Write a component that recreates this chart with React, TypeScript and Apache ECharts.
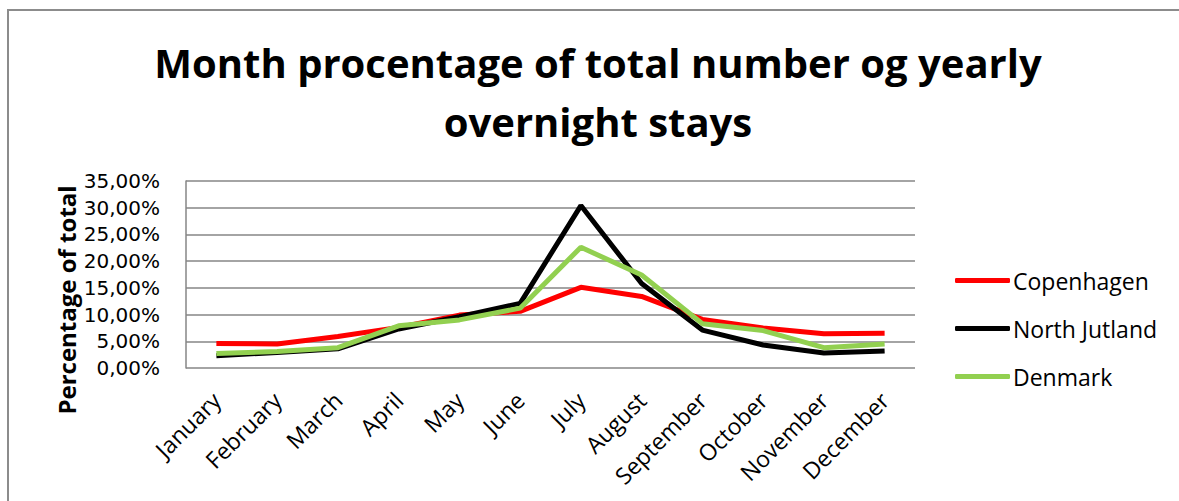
import React, { useEffect, useRef } from "react";
import * as echarts from "echarts";

const months = ["January", "February", "March", "April", "May", "June", "July", "August", "September", "October", "November", "December"];
const copenhagen = [4.6, 4.5, 5.9, 7.6, 9.9, 10.6, 15.1, 13.4, 9.1, 7.5, 6.4, 6.5];
const northJutland = [2.3, 2.9, 3.6, 7.3, 9.6, 12.1, 30.4, 15.8, 7.1, 4.3, 2.8, 3.2];
const denmark = [2.7, 3.1, 3.8, 7.9, 9.0, 11.2, 22.6, 17.4, 8.3, 7.0, 3.8, 4.5];
const yTicks = { min: 0, max: 35, interval: 5 };
const titleLines = ["Month procentage of total number og yearly", "overnight stays"];
const yAxisName = "Percentage of total";

const FONT = "'Open Sans', 'Noto Sans', sans-serif";
const NUM_FONT = "'DejaVu Sans', 'Open Sans', sans-serif";

export default function App() {
  const ref = useRef<HTMLDivElement>(null);
  useEffect(() => {
    if (!ref.current) return;
    const chart = echarts.init(ref.current, null, { renderer: "svg" });
    chart.setOption({
      animation: false,
      backgroundColor: "#ffffff",
      textStyle: { fontFamily: FONT },
      graphic: [
        {
          type: "rect",
          shape: { x: 8, y: 10, width: 1300, height: 600 },
          style: { fill: "none", stroke: "#8c8c8c", lineWidth: 2 },
          silent: true,
        },
        {
          type: "text",
          x: 598,
          y: 62,
          style: {
            text: titleLines[0],
            font: `bold 40px ${FONT}`,
            fill: "#000",
            align: "center",
            verticalAlign: "middle",
          },
        },
        {
          type: "text",
          x: 598,
          y: 121,
          style: {
            text: titleLines[1],
            font: `bold 40px ${FONT}`,
            fill: "#000",
            align: "center",
            verticalAlign: "middle",
          },
        },
        {
          type: "text",
          x: 66,
          y: 300,
          rotation: Math.PI / 2,
          style: {
            text: yAxisName,
            font: `bold 24px ${FONT}`,
            fill: "#000",
            align: "center",
            verticalAlign: "middle",
          },
        },
      ],
      legend: {
        orient: "vertical",
        left: 955,
        top: 269,
        padding: 0,
        itemWidth: 55,
        itemHeight: 5,
        itemGap: 25,
        icon: "roundRect",
        textStyle: { fontFamily: FONT, fontSize: 23, color: "#000", padding: [0, 0, 0, -2] },
        data: ["Copenhagen", "North Jutland", "Denmark"],
      },
      grid: { left: 186, right: 264, top: 181, bottom: 133, containLabel: false },
      xAxis: {
        type: "category",
        data: months,
        boundaryGap: true,
        axisLine: { show: false },
        axisTick: { show: false },
        axisLabel: {
          rotate: 45,
          interval: 0,
          margin: 28,
          fontFamily: FONT,
          fontSize: 23,
          color: "#000",
        },
      },
      yAxis: {
        type: "value",
        min: yTicks.min,
        max: yTicks.max,
        interval: yTicks.interval,
        axisLine: { show: true, lineStyle: { color: "#868686", width: 1.5 } },
        axisTick: { show: false },
        splitLine: { lineStyle: { color: "#868686", width: 1.5 } },
        axisLabel: {
          margin: 26,
          fontFamily: NUM_FONT,
          fontSize: 20,
          color: "#000",
          formatter: (v: number) => v.toFixed(2).replace(".", ",") + "%",
        },
      },
      series: [
        { name: "Copenhagen", type: "line", data: copenhagen, color: "#FF0000", lineStyle: { width: 5, color: "#FF0000" }, showSymbol: false, symbol: "none" },
        { name: "North Jutland", type: "line", data: northJutland, color: "#000000", lineStyle: { width: 5, color: "#000000" }, showSymbol: false, symbol: "none" },
        { name: "Denmark", type: "line", data: denmark, color: "#92D050", lineStyle: { width: 5, color: "#92D050" }, showSymbol: false, symbol: "none" },
      ],
    });
    return () => chart.dispose();
  }, []);
  return (
    <div
      ref={ref}
      style={{ position: "fixed", left: 0, top: 0, width: 1179, height: 501, background: "#fff" }}
    />
  );
}
